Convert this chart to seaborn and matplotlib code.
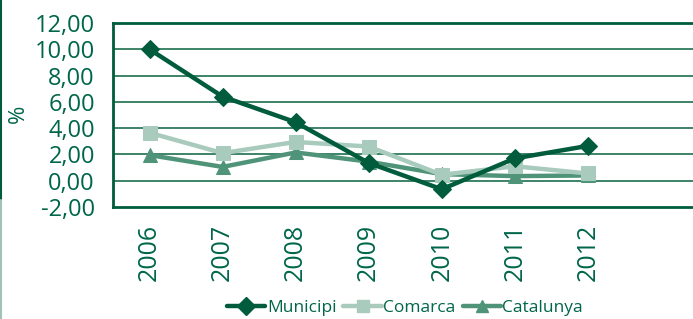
import pandas as pd
import numpy as np
import matplotlib
matplotlib.use("Agg")
import matplotlib.pyplot as plt
import seaborn as sns
from matplotlib.lines import Line2D

# dades llegides del gràfic
anys = ["2006", "2007", "2008", "2009", "2010", "2011", "2012"]
municipi = [10.0, 6.4, 4.45, 1.35, -0.65, 1.7, 2.65]
comarca = [3.65, 2.1, 2.95, 2.6, 0.45, 1.1, 0.55]
catalunya = [1.95, 1.05, 2.15, 1.45, 0.5, 0.35, 0.4]
series = ["Municipi", "Comarca", "Catalunya"]
yticks = [-2, 0, 2, 4, 6, 8, 10, 12]

verd_text = "#00664a"
colors = {"Municipi": "#005c3c", "Comarca": "#a9cbbd", "Catalunya": "#4f9478"}
markers = {"Municipi": "D", "Comarca": "s", "Catalunya": "^"}

df = pd.DataFrame({
    "pos": list(range(len(anys))) * 3,
    "valor": municipi + comarca + catalunya,
    "serie": np.repeat(series, len(anys)),
})

sns.set_style("white")
plt.rcParams["font.family"] = ["Open Sans", "DejaVu Sans"]

fig = plt.figure(figsize=(6.93, 3.19), dpi=100)
ax = fig.add_axes([113 / 693, 1 - 207 / 319, 1 - 113 / 693, 184 / 319])

for y in yticks[1:-1]:
    ax.axhline(y, color="#2e7a5c", lw=1.3, zorder=0)

# draw in reverse so Municipi is on top
for s in series[::-1]:
    d = df[df.serie == s]
    sns.lineplot(data=d, x="pos", y="valor", color=colors[s], marker=markers[s],
                 markersize=10 if s != "Municipi" else 9, markeredgecolor=colors[s],
                 lw=3.2, ax=ax, legend=False)

ax.set_xlim(-0.5, 6.5 + (693 - 624.5) / 73)
ax.set_ylim(-2, 12)
ax.set_yticks(yticks)
ax.set_yticklabels([f"{v:.2f}".replace(".", ",") for v in yticks],
                   fontsize=17, color=verd_text)
ax.set_xticks(range(len(anys)))
ax.set_xticklabels(anys, rotation=90, fontsize=18, color=verd_text)
ax.tick_params(axis="y", length=5, color="#9fc4b4", pad=8)
ax.tick_params(axis="x", length=0, pad=12)
ax.set_xlabel("")
ax.set_ylabel("")
fig.text(18 / 693, 1 - 114 / 319, "%", rotation=90, fontsize=16, color=verd_text,
         ha="center", va="center")

for sp in ["top", "bottom", "left"]:
    ax.spines[sp].set_color("#005c3c")
    ax.spines[sp].set_linewidth(2)
ax.spines["right"].set_visible(False)

handles = [Line2D([], [], color=colors[s], marker=markers[s], lw=3.2,
                  markersize=9, markeredgecolor=colors[s]) for s in series]
leg = fig.legend(handles, series, loc="center", bbox_to_anchor=(405 / 693, 1 - 308 / 319),
                 ncol=3, frameon=False, fontsize=12.5, handlelength=2.2,
                 handletextpad=0.1, columnspacing=0.4, borderaxespad=0)
for t in leg.get_texts():
    t.set_color(verd_text)

fig.add_artist(Line2D([0.002, 0.002], [1, 1 - 200 / 319], color="#005c3c", lw=1.5))
fig.add_artist(Line2D([0.002, 0.002], [1 - 200 / 319, 0], color="#9fc4b4", lw=1.5))

fig.savefig("out.png", dpi=100)
